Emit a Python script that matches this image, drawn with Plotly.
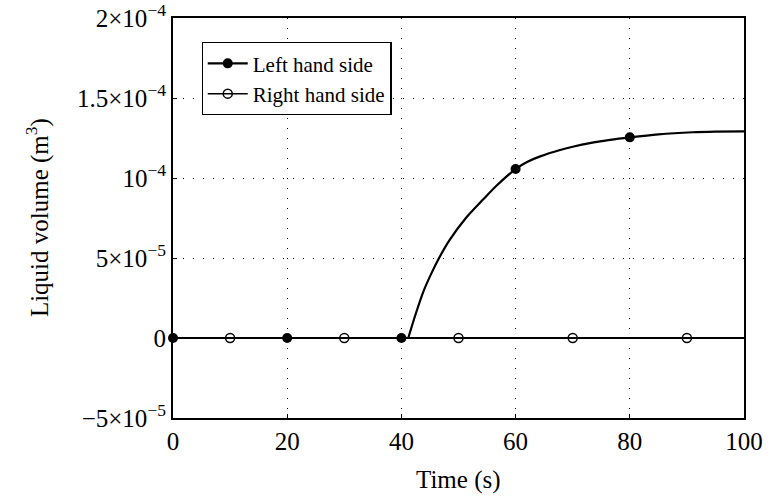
import plotly.graph_objects as go

# Left hand side curve (time in s, volume in m^3)
t_left = [0, 20, 40, 41.2, 42.5, 43.9, 45.4, 46.6, 48.4, 51.3, 54.3, 56.6, 60, 62.0, 64.3, 67.8, 70.0, 73, 76.5, 80, 85, 91, 95, 100]
v_left = [0, 0, 0, 0, 15e-6, 29.5e-6, 41.5e-6, 50e-6, 61e-6, 75e-6, 86.5e-6, 95e-6, 105.6e-6, 110e-6, 113.5e-6, 117.5e-6, 119.5e-6, 121.8e-6, 123.8e-6, 125.4e-6, 127.3e-6, 128.6e-6, 129e-6, 129.2e-6]
t_left_marks = [0, 20, 40, 60, 80]
v_left_marks = [0, 0, 0, 105.6e-6, 125.4e-6]

# Right hand side
t_right = [0, 100]
v_right = [0, 0]
t_right_marks = [10, 30, 50, 70, 90]
v_right_marks = [0, 0, 0, 0, 0]

x_ticks = [0, 20, 40, 60, 80, 100]
y_ticks = [-5e-5, 0, 5e-5, 1e-4, 1.5e-4, 2e-4]
y_ticktext = ["\u22125\u00d710<sup>\u22125</sup>", "0", "5\u00d710<sup>\u22125</sup>",
              "10<sup>\u22124</sup>", "1.5\u00d710<sup>\u22124</sup>", "2\u00d710<sup>\u22124</sup>"]

# split the left curve into its flat part and its rising part
k = 3  # index where the rise starts (t = 41.2)
FONT = "Liberation Serif"
fig = go.Figure()
fig.add_trace(go.Scatter(x=t_right, y=v_right, mode="lines", line=dict(color="black", width=2.2), showlegend=False))
fig.add_trace(go.Scatter(x=t_left[:k + 1], y=v_left[:k + 1], mode="lines",
                         line=dict(color="black", width=2.2), showlegend=False))
fig.add_trace(go.Scatter(x=t_left[k:], y=v_left[k:], mode="lines",
                         line=dict(color="black", width=2.2, shape="spline", smoothing=0.8), showlegend=False))
fig.add_trace(go.Scatter(x=t_left_marks, y=v_left_marks, mode="markers", cliponaxis=False,
                         marker=dict(symbol="circle", size=10, color="black"), showlegend=False))
fig.add_trace(go.Scatter(x=t_right_marks, y=v_right_marks, mode="markers", cliponaxis=False,
                         marker=dict(symbol="circle-open", size=9, color="black", line=dict(width=1.5)), showlegend=False))
fig.add_trace(go.Scatter(x=[None], y=[None], mode="lines+markers", name="Left hand side",
                         line=dict(color="black", width=2.2), marker=dict(symbol="circle", size=10, color="black")))
fig.add_trace(go.Scatter(x=[None], y=[None], mode="lines+markers", name="Right hand side",
                         line=dict(color="black", width=1.5),
                         marker=dict(symbol="circle-open", size=9, color="black", line=dict(width=1.5))))

fig.update_layout(
    width=773, height=497,
    margin=dict(l=173, r=29, t=18, b=79),
    paper_bgcolor="white", plot_bgcolor="white",
    font=dict(family=FONT, size=24, color="black"),
    legend=dict(x=0.05, y=0.94, xanchor="left", yanchor="top", bgcolor="white",
                bordercolor="black", borderwidth=1.2, font=dict(size=21, family=FONT),
                tracegroupgap=0, itemwidth=40),
    xaxis=dict(range=[0, 100], tickvals=x_ticks, showline=True, mirror=True, linecolor="black", linewidth=2,
               showgrid=True, gridcolor="black", gridwidth=1, griddash="1px,9px", zeroline=False,
               ticks="inside", ticklen=4, tickcolor="black", tickfont=dict(size=25), automargin=False),
    yaxis=dict(range=[-5e-5, 2e-4], tickvals=y_ticks, ticktext=y_ticktext, showline=True, mirror=True,
               linecolor="black", linewidth=2, showgrid=True, gridcolor="black", gridwidth=1,
               griddash="1px,9px", zeroline=False, ticks="inside", ticklen=4, tickcolor="black",
               tickfont=dict(size=25), automargin=False),
    annotations=[
        dict(text="Time (s)", x=0.5, y=-0.155, xref="paper", yref="paper", showarrow=False,
             font=dict(size=25), xanchor="center", yanchor="middle"),
        dict(text="Liquid volume (m<sup>3</sup>)", x=-0.238, y=0.5, xref="paper", yref="paper",
             showarrow=False, textangle=-90, font=dict(size=25), xanchor="center", yanchor="middle"),
    ],
)
fig.write_html("out.html", config={"displayModeBar": False},
               post_script="document.body.style.margin='0';document.body.style.overflow='hidden';")
